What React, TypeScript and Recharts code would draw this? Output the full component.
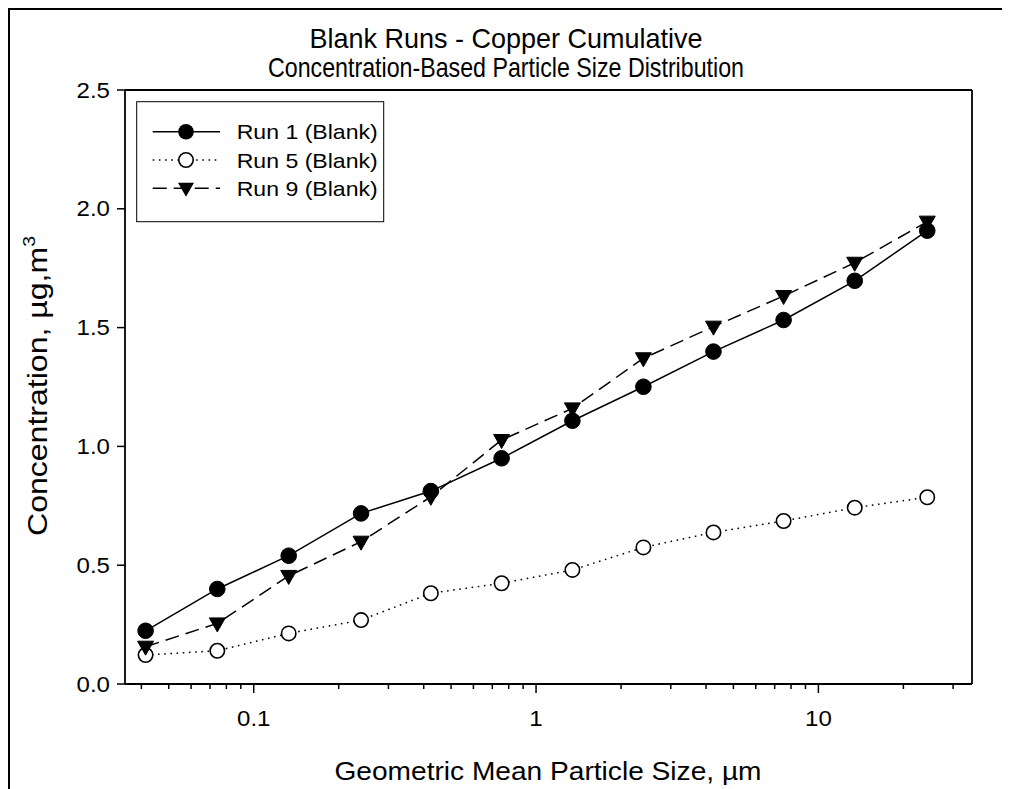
import React from "react";
import { LineChart, Line, XAxis, YAxis, ReferenceLine } from "recharts";

// ---- data ----
const sizes = [0.0414, 0.0743, 0.133, 0.24, 0.424, 0.755, 1.345, 2.4, 4.25, 7.53, 13.45, 24.3];
const run1 = [0.224, 0.4, 0.54, 0.718, 0.812, 0.95, 1.108, 1.251, 1.399, 1.532, 1.697, 1.908];
const run5 = [0.122, 0.14, 0.213, 0.269, 0.382, 0.424, 0.48, 0.575, 0.638, 0.686, 0.742, 0.786];
const run9 = [0.157, 0.255, 0.455, 0.599, 0.788, 1.027, 1.16, 1.371, 1.504, 1.633, 1.773, 1.946];
const seriesNames = ["Run 1 (Blank)", "Run 5 (Blank)", "Run 9 (Blank)"];
const xMajorTicks = [0.1, 1, 10];
const xMinorTicks = [0.04, 0.05, 0.06, 0.07, 0.08, 0.09, 0.2, 0.3, 0.4, 0.5, 0.6, 0.7, 0.8, 0.9, 2, 3, 4, 5, 6, 7, 8, 9, 20, 30];
const yTicks = [0, 0.5, 1.0, 1.5, 2.0, 2.5];
const xDomain = [0.035, 35];
const yDomain = [0, 2.5];
const titleLines = ["Blank Runs - Copper Cumulative", "Concentration-Based Particle Size Distribution"];
const xLabel = "Geometric Mean Particle Size, \u00b5m";

const rows = sizes.map((s, i) => ({ x: s, r1: run1[i], r5: run5[i], r9: run9[i] }));
const allXTicks = [...xMinorTicks, ...xMajorTicks].sort((a, b) => a - b);

if (typeof document !== "undefined") {
  document.documentElement.style.overflow = "hidden";
  document.body.style.overflow = "hidden";
}

const FONT = "'Liberation Sans', Arial, Helvetica, sans-serif";
const SX = 1.12;
const W = 1000;
const H = 779;
const X_AXIS_H = 30;
const Y_AXIS_W = 60;
const M = { top: 80, right: 38, bottom: 105 - X_AXIS_H, left: 115 - Y_AXIS_W };

const XTick = (props: any) => {
  const { x, y, payload } = props;
  const v = payload.value;
  const major = xMajorTicks.some((m) => Math.abs(m - v) < 1e-9);
  return (
    <g>
      <line x1={x} x2={x} y1={y} y2={y + (major ? 9 : 5)} stroke="#000" strokeWidth={1.5} />
      {major && (
        <text transform={`translate(${x},${y + 42}) scale(${SX},1)`} textAnchor="middle" fontSize={21.5} fontFamily={FONT} fill="#000">
          {String(v)}
        </text>
      )}
    </g>
  );
};

const YTick = (props: any) => {
  const { x, y, payload } = props;
  return (
    <g>
      <line x1={x} x2={x - 8} y1={y} y2={y} stroke="#000" strokeWidth={1.5} />
      <text transform={`translate(${x - 15},${y + 7.5}) scale(${SX},1)`} textAnchor="end" fontSize={21.5} fontFamily={FONT} fill="#000">
        {Number(payload.value).toFixed(1)}
      </text>
    </g>
  );
};

const FilledDot = (p: any) => <circle key={p.index} cx={p.cx} cy={p.cy} r={7.8} fill="#000" stroke="#000" strokeWidth={1} />;
const OpenDot = (p: any) => <circle key={p.index} cx={p.cx} cy={p.cy} r={7.2} fill="#fff" stroke="#000" strokeWidth={1.6} />;
const triPath = (cx: number, cy: number) => `M${cx - 8},${cy - 5.5} L${cx + 8},${cy - 5.5} L${cx},${cy + 8.5} Z`;
const TriDot = (p: any) => <path key={p.index} d={triPath(p.cx, p.cy)} fill="#000" stroke="#000" strokeWidth={1} />;

const DASH_SOLID = undefined;
const DASH_DOT = "1.6 4.6";
const DASH_DASH = "14 7";

export default function App() {
  const legendX = 126.7;
  const legendY = 91.7;
  const rowYs = [121.7, 150, 178.3];
  return (
    <div style={{ position: "relative", width: 1002, height: 781, borderTop: "2px solid #000", borderLeft: "2px solid #000", boxSizing: "border-box", background: "#fff" }}>
      <LineChart width={W} height={H} data={rows} margin={M}>
        <XAxis
          dataKey="x"
          type="number"
          scale="log"
          domain={xDomain}
          allowDataOverflow
          ticks={allXTicks}
          interval={0}
          tickSize={0}
          tickMargin={0}
          height={X_AXIS_H}
          tickLine={false}
          axisLine={{ stroke: "#000", strokeWidth: 1.8 }}
          tick={XTick}
        />
        <YAxis
          type="number"
          domain={yDomain}
          ticks={yTicks}
          interval={0}
          tickSize={0}
          tickMargin={0}
          width={Y_AXIS_W}
          tickLine={false}
          axisLine={{ stroke: "#000", strokeWidth: 1.8 }}
          tick={YTick}
        />
        <ReferenceLine y={2.5} stroke="#000" strokeWidth={1.8} />
        <ReferenceLine x={35} stroke="#000" strokeWidth={1.8} />
        <Line dataKey="r5" type="linear" stroke="#000" strokeWidth={1.5} strokeDasharray={DASH_DOT} dot={OpenDot} isAnimationActive={false} />
        <Line dataKey="r9" type="linear" stroke="#000" strokeWidth={1.5} strokeDasharray={DASH_DASH} dot={TriDot} isAnimationActive={false} />
        <Line dataKey="r1" type="linear" stroke="#000" strokeWidth={1.5} strokeDasharray={DASH_SOLID} dot={FilledDot} isAnimationActive={false} />
      </LineChart>
      <svg width={W} height={H} style={{ position: "absolute", left: 0, top: 0, pointerEvents: "none" }}>
        <text x={496} y={38} textAnchor="middle" fontSize={28} fontFamily={FONT} textLength={393} lengthAdjust="spacingAndGlyphs">{titleLines[0]}</text>
        <text x={496} y={67} textAnchor="middle" fontSize={28} fontFamily={FONT} textLength={476} lengthAdjust="spacingAndGlyphs">{titleLines[1]}</text>
        <text x={538} y={770} textAnchor="middle" fontSize={25} fontFamily={FONT} textLength={427} lengthAdjust="spacingAndGlyphs">{xLabel}</text>
        <text transform="translate(37,376) rotate(-90)" textAnchor="middle" fontSize={28} fontFamily={FONT} textLength={300} lengthAdjust="spacingAndGlyphs">
          Concentration, {"\u00b5"}g,m<tspan fontSize={17} dy={-12}>3</tspan>
        </text>
        <rect x={legendX} y={legendY} width={247} height={120} fill="#fff" stroke="#000" strokeWidth={1} />
        {rowYs.map((ry, i) => (
          <g key={i}>
            <line x1={142.7} x2={210} y1={ry} y2={ry} stroke="#000" strokeWidth={1.5} strokeDasharray={[DASH_SOLID, DASH_DOT, DASH_DASH][i]} />
            {i === 0 && <circle cx={176} cy={ry} r={7.8} fill="#000" />}
            {i === 1 && <circle cx={176} cy={ry} r={7.2} fill="#fff" stroke="#000" strokeWidth={1.6} />}
            {i === 2 && <path d={triPath(176, ry)} fill="#000" />}
            <text x={226.7} y={ry + 7.5} fontSize={21} fontFamily={FONT} textLength={141} lengthAdjust="spacingAndGlyphs">{seriesNames[i]}</text>
          </g>
        ))}
      </svg>
    </div>
  );
}
